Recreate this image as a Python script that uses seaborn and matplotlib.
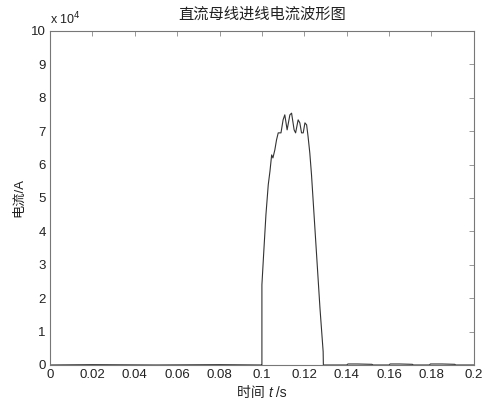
"""DC bus incoming current waveform (MATLAB-style figure)."""

import matplotlib
matplotlib.use("Agg")
import matplotlib.pyplot as plt
import numpy as np
import pandas as pd
import seaborn as sns
from matplotlib.offsetbox import AnnotationBbox, HPacker, TextArea
from matplotlib.ticker import FuncFormatter

# time (s) and current (x1e4 A)
time_s = [
  0.0, 0.02, 0.05, 0.08, 0.0999, 0.1, 0.1, 0.1008, 0.1019, 0.1030,
  0.1038, 0.1046, 0.1052, 0.1061, 0.1069, 0.1077, 0.1090, 0.1100,
  0.1108, 0.1119, 0.1132, 0.1140, 0.1152, 0.1159, 0.1171, 0.1179,
  0.1187, 0.1195, 0.1203, 0.1211, 0.1218, 0.1226, 0.1234, 0.1242,
  0.1258, 0.1274, 0.1289, 0.1290, 0.1400, 0.1406, 0.1450, 0.1519,
  0.1525, 0.1600, 0.1605, 0.1650, 0.1710, 0.1715, 0.1790, 0.1795,
  0.1850, 0.1910, 0.1915, 0.2,
]
current_1e4 = [
  0.0, 0.01, 0.0, 0.01, 0.0, 0.0, 2.4, 3.3, 4.5, 5.4,
  5.8, 6.29, 6.2, 6.44, 6.74, 6.95, 6.95, 7.34,
  7.49, 7.04, 7.49, 7.54, 7.04, 6.95, 7.34, 7.25,
  6.95, 6.95, 7.25, 7.19, 6.83, 6.35, 5.7, 4.9,
  3.3, 1.7, 0.4, 0.0, 0.0, 0.03, 0.03, 0.02,
  0.0, 0.0, 0.03, 0.03, 0.02, 0.0, 0.0, 0.03,
  0.03, 0.02, 0.0, 0.0,
]

x_ticks = [0, 0.02, 0.04, 0.06, 0.08, 0.1, 0.12, 0.14, 0.16, 0.18, 0.2]
y_ticks = [0, 1, 2, 3, 4, 5, 6, 7, 8, 9, 10]

title = "直流母线进线电流波形图"
y_label = "电流/A"

sns.set_style("white")
fonts = ["Liberation Sans", "Noto Sans CJK SC", "DejaVu Sans"]
plt.rcParams["font.family"] = fonts
plt.rcParams["xtick.direction"] = "in"
plt.rcParams["ytick.direction"] = "in"

df = pd.DataFrame({"t": time_s, "i": np.array(current_1e4) * 1e4})

fig = plt.figure(figsize=(4.83, 4.01), dpi=100)
ax = fig.add_axes([0.1035, 0.0898, 0.8775, 0.8329])

sns.lineplot(data=df, x="t", y="i", ax=ax, color="#333333", linewidth=0.8,
             sort=False, estimator=None)

ax.set_xlim(0, 0.2)
ax.set_ylim(0, 1e5)
ax.set_xticks(x_ticks)
ax.set_yticks([v * 1e4 for v in y_ticks])
ax.xaxis.set_major_formatter(FuncFormatter(lambda v, p: f"{v:g}"))
ax.yaxis.set_major_formatter(FuncFormatter(lambda v, p: f"{v / 1e4:g}"))
ax.tick_params(axis="both", labelsize=9.5, length=3.5, width=0.6,
               top=True, right=True, pad=3, colors="#888888",
               labelcolor="#222222")
for sp in ax.spines.values():
  sp.set_color("#777777")
  sp.set_linewidth(0.8)

ax.set_title(title, fontsize=11, color="#222222", pad=9)
ax.set_ylabel(y_label, fontsize=9.5, color="#222222", labelpad=4)
ax.set_xlabel("")
ax.text(0.0, 1.012, "x 10$^4$", transform=ax.transAxes, fontsize=9,
        color="#222222", ha="left", va="bottom")

props = dict(fontsize=10, color="#222222", family=fonts)
label = HPacker(children=[
  TextArea("时间 ", textprops=props),
  TextArea("t", textprops=dict(props, style="italic")),
  TextArea(" /s", textprops=props),
], align="baseline", pad=0, sep=0)
ab = AnnotationBbox(label, (0.5, 0), xycoords="axes fraction",
                    xybox=(0, -15), boxcoords="offset points",
                    frameon=False, box_alignment=(0.5, 1))
ax.add_artist(ab)

fig.savefig("out.png", dpi=100, facecolor="white")
plt.close(fig)
